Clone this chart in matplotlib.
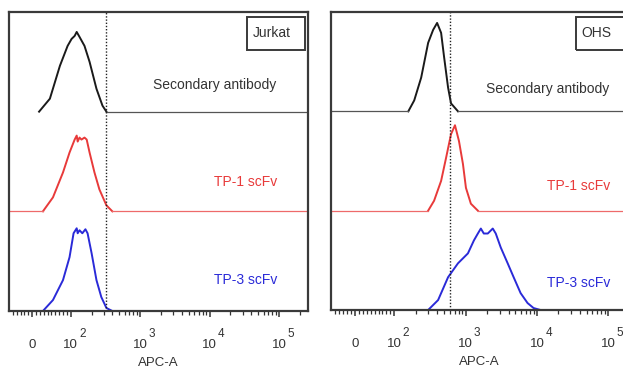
import numpy as np
import matplotlib.pyplot as plt
import matplotlib.transforms as mtransforms
from matplotlib.patches import Rectangle

plt.rcParams['font.family'] = ['Liberation Sans', 'DejaVu Sans']

XMIN, XMAX = -60, 262143

# ---- data (APC-A value, normalised count per row) ----
# Jurkat
jurkat_sec_x = [18, 46, 72, 92, 103, 114, 122, 134, 158, 187, 235, 287, 327]
jurkat_sec_y = [0, .13, .46, .66, .73, .76, .80, .75, .66, .50, .23, .06, 0]
jurkat_tp1_x = [28, 54, 80, 97, 114, 122, 126, 134, 143, 158, 170, 187, 220, 259, 327, 398]
jurkat_tp1_y = [0, .14, .39, .59, .72, .76, .70, .74, .72, .74, .72, .59, .39, .22, .06, 0]
jurkat_tp3_x = [28, 54, 80, 97, 110, 122, 126, 134, 147, 163, 175, 200, 235, 276, 327, 398]
jurkat_tp3_y = [0, .11, .31, .54, .78, .83, .78, .81, .78, .82, .78, .58, .31, .14, .03, 0]
jurkat_gate = 327

# OHS
ohs_sec_x = [157, 190, 238, 298, 350, 398, 453, 498, 567, 624, 781]
ohs_sec_y = [0, .11, .34, .69, .82, .89, .79, .55, .24, .08, 0]
ohs_tp1_x = [298, 361, 453, 531, 624, 709, 807, 917, 1010, 1185, 1485]
ohs_tp1_y = [0, .10, .30, .53, .77, .86, .70, .47, .23, .07, 0]
ohs_tp3_x = [298, 411, 567, 781, 1077, 1306, 1485, 1635, 1799, 2046, 2403,
             2648, 3108, 3890, 4718, 5908, 7395, 8970, 11220]
ohs_tp3_y = [0, .10, .33, .47, .57, .70, .77, .82, .77, .77, .82,
             .77, .63, .47, .33, .17, .07, .02, 0]
ohs_gate = 610

tick_vals = [100, 1e3, 1e4, 1e5]
tick_exps = ['2', '3', '4', '5']
sample_names = ['Secondary antibody', 'TP-1 scFv', 'TP-3 scFv']
colors = ['#1a1a1a', '#e83a3a', '#2a2ad8']
base_colors = ['#555555', '#ee6a6a', '#2a2ad8']
text_colors = ['#333333', '#e83a3a', '#2a2ad8']

fig = plt.figure(figsize=(6.23, 3.68), dpi=100)
ax1 = fig.add_axes([9/623, 57/368, 299/623, 299/368])
ax2 = fig.add_axes([331/623, 58/368, 307/623, 298/368])


def histo(ax, x, y, base, i, from_left):
    # curve itself
    ax.plot(x, np.array(y) + base, color=colors[i], lw=1.4, solid_joinstyle='round')
    # flat baseline out to the panel edges
    if base > 0:
        ax.plot([x[-1], XMAX], [base, base], color=base_colors[i], lw=0.9)
        if from_left:
            ax.plot([XMIN, x[0]], [base, base], color=base_colors[i], lw=0.9)


def setup(ax, label, box_x, txt_pos, gate, xlab_x):
    ax.set_xscale('symlog', linthresh=100, linscale=0.5, base=10)
    ax.set_xlim(XMIN, XMAX)
    ax.set_ylim(0, 3)
    for s in ax.spines.values():
        s.set_color('#3a3a3a')
        s.set_linewidth(1.6)
    ax.set_yticks([])
    minors = [v for v in range(-50, 100, 10) if v != 0]
    for k in [2, 3, 4]:
        minors += [m * 10**k for m in range(2, 10)]
    minors += [2e5]
    ax.set_xticks([0] + tick_vals)
    ax.set_xticks(minors, minor=True)
    ax.set_xticklabels([])
    ax.tick_params(axis='x', which='major', direction='out', length=4.5, width=1.1, color='#333')
    ax.tick_params(axis='x', which='minor', direction='out', length=2.8, width=0.9, color='#333')

    tr = mtransforms.blended_transform_factory(ax.transData, ax.transAxes)
    ax.text(0, -0.124, '0', transform=tr, ha='center', va='baseline', fontsize=9.5, color='#333')
    for v, e in zip(tick_vals, tick_exps):
        ax.text(v, -0.124, '10', transform=tr, ha='center', va='baseline', fontsize=9.5, color='#333')
        ax.annotate(e, xy=(v, -0.124), xycoords=tr, xytext=(6.0, 8), textcoords='offset points',
                    ha='left', va='baseline', fontsize=8.5, color='#333', annotation_clip=False)
    ax.text(xlab_x, -0.184, 'APC-A', transform=ax.transAxes, ha='center', va='baseline',
            fontsize=9.5, color='#333')

    ax.axvline(gate, color='#222', lw=1, ls=(0, (1, 1.3)))

    ax.add_patch(Rectangle((box_x, 0.873), 0.194, 0.11, transform=ax.transAxes,
                           fill=False, ec='#3a3a3a', lw=1.4))
    ax.text(box_x + 0.018, 0.93, label, transform=ax.transAxes, ha='left', va='center',
            fontsize=10, color='#333')

    (sx, sy), (t1x, t1y), (t3x, t3y) = txt_pos
    ax.text(sx, sy, sample_names[0], transform=ax.transAxes, ha='center', va='center',
            fontsize=10, color=text_colors[0])
    ax.text(t1x, t1y, sample_names[1], transform=ax.transAxes, ha='right', va='center',
            fontsize=10, color=text_colors[1])
    ax.text(t3x, t3y, sample_names[2], transform=ax.transAxes, ha='right', va='center',
            fontsize=10, color=text_colors[2])


histo(ax1, jurkat_sec_x, jurkat_sec_y, 2, 0, False)
histo(ax1, jurkat_tp1_x, jurkat_tp1_y, 1, 1, True)
histo(ax1, jurkat_tp3_x, jurkat_tp3_y, 0, 2, False)
setup(ax1, 'Jurkat', 0.796, [(0.689, 0.756), (0.896, 0.431), (0.896, 0.104)],
      jurkat_gate, 0.5)

histo(ax2, ohs_sec_x, ohs_sec_y, 2, 0, True)
histo(ax2, ohs_tp1_x, ohs_tp1_y, 1, 1, True)
histo(ax2, ohs_tp3_x, ohs_tp3_y, 0, 2, False)
setup(ax2, 'OHS', 0.798, [(0.705, 0.742), (0.909, 0.416), (0.909, 0.091)],
      ohs_gate, 0.483)

fig.savefig('out.png', dpi=100)
